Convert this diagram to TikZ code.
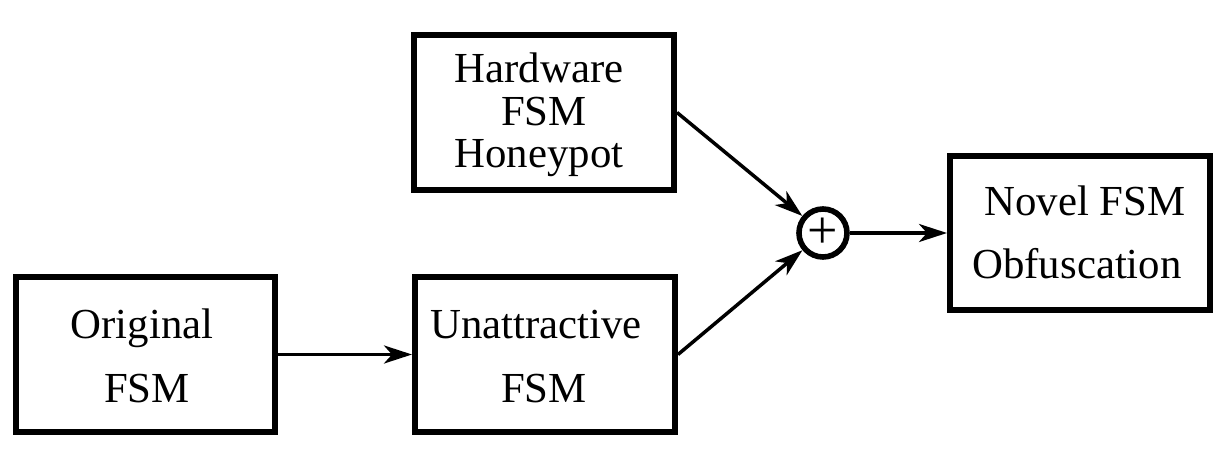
\documentclass[tikz,border=0pt]{standalone}
\usepackage{fontspec}
\setmainfont{Liberation Serif}
\usetikzlibrary{arrows.meta}
\begin{document}
\begin{tikzpicture}[x=0.5pt,y=-0.5pt,
  box/.style={draw,line width=3pt,rectangle,inner sep=0pt},
  lbl/.style={anchor=base,inner sep=0pt,font=\fontsize{21.4pt}{25pt}\selectfont},
  conn/.style={line width=1.75pt,-{Stealth[length=14pt,width=9pt,inset=4pt]}},
  sum/.style={draw,circle,line width=2.8pt,minimum size=24pt,inner sep=0pt,font=\fontsize{27pt}{30pt}\selectfont}]
\useasboundingbox (0,0) rectangle (1228,466);
\node[box,minimum width=129.5pt,minimum height=77.5pt] (orig) at (145.5,354.5) {};
\node[box,minimum width=130pt,minimum height=77.5pt] (unat) at (545,354.5) {};
\node[box,minimum width=130pt,minimum height=77.5pt] (hw) at (544,112.5) {};
\node[box,minimum width=130pt,minimum height=77pt] (nov) at (1080,233) {};
\node[sum] (plus) at (823,233) {};
\node[inner sep=0pt,font=\fontsize{27pt}{30pt}\selectfont] (plustxt) at (plus) {+};
\node[lbl] (t1) at (142,338) {Original};
\node[lbl] (t2) at (147,402) {FSM};
\node[lbl] (t3) at (536,338) {Unattractive};
\node[lbl] (t4) at (544,402) {FSM};
\node[lbl] (t5) at (539,83) {Hardware};
\node[lbl] (t6) at (544,126) {FSM};
\node[lbl] (t7) at (539,167) {Honeypot};
\node[lbl] (t8) at (1085,215) {Novel FSM};
\node[lbl] (t9) at (1077,278) {Obfuscation};
\draw[conn] (orig.east) -- (unat.west);
\draw[conn] (hw.east) -- (plus);
\draw[conn] (unat.east) -- (plus);
\draw[conn] (plus) -- (nov.west);
\end{tikzpicture}
\end{document}
